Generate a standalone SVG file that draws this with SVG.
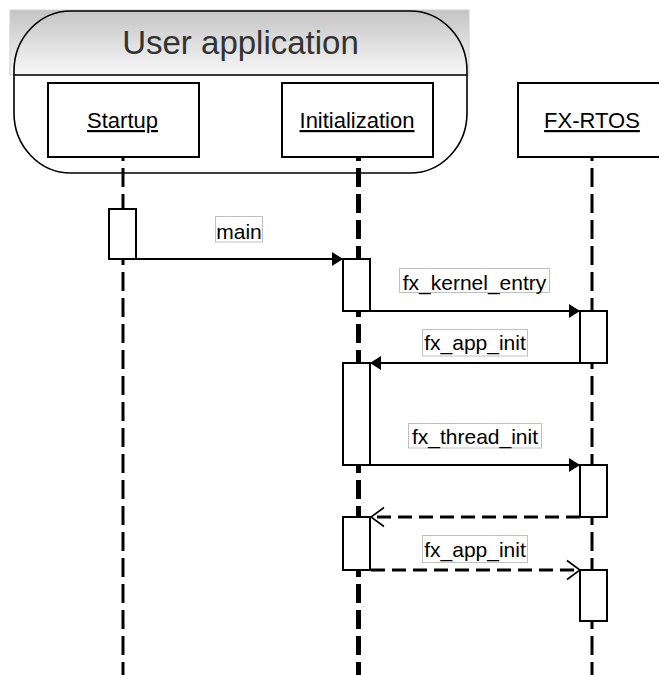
<svg xmlns="http://www.w3.org/2000/svg" width="659" height="675" viewBox="0 0 659 675">
<defs>
<linearGradient id="hdr" x1="0" y1="0" x2="0" y2="1">
<stop offset="0" stop-color="#c4c4c4"/>
<stop offset="1" stop-color="#f8f8f8"/>
</linearGradient>
<marker id="filled" markerWidth="12" markerHeight="16" refX="11" refY="8" orient="auto" markerUnits="userSpaceOnUse">
<path d="M0,1 L11,8 L0,15 Z" fill="#000"/>
</marker>
<marker id="open" markerWidth="16" markerHeight="24" refX="14" refY="11" orient="auto" markerUnits="userSpaceOnUse">
<path d="M1,1.5 L14,11 L1,20.5" fill="none" stroke="#000" stroke-width="1.6"/>
</marker>
<style>
.box{fill:#fff;stroke:#000;stroke-width:2}
.act{fill:#fff;stroke:#000;stroke-width:2}
.name{font-family:"Liberation Sans",Arial,sans-serif;font-size:22px;fill:#000;text-anchor:middle;text-decoration:underline}
.life{stroke:#000;stroke-width:3;stroke-dasharray:19 7;stroke-dashoffset:15;fill:none}
.lbl{fill:#fff;stroke:#c0c0c0;stroke-width:1}
.lt{font-family:"Liberation Sans",Arial,sans-serif;font-size:21px;fill:#000;text-anchor:middle}
.msg{stroke:#000;stroke-width:2;fill:none}
.ret{stroke:#000;stroke-width:3;stroke-dasharray:14 7;fill:none}
</style>
</defs>
<g id="user-application">
<rect x="10" y="10" width="459" height="65" fill="url(#hdr)" stroke="#d0d0d0" stroke-width="1"/>
<rect x="14" y="11" width="453" height="162" rx="57" ry="60" fill="none" stroke="#000" stroke-width="1.6"/>
<line x1="14" y1="75" x2="467" y2="75" stroke="#000" stroke-width="1.6"/>
<text x="240.5" y="54" font-family="'Liberation Sans',Arial,sans-serif" font-size="33" fill="#333" text-anchor="middle">User application</text>
</g>
<g id="lifelines">
<line class="life" x1="123" y1="157" x2="123" y2="675"/>
<line class="life" x1="358.5" y1="157" x2="358.5" y2="675" style="stroke-width:5"/>
<line class="life" x1="592" y1="157" x2="592" y2="675"/>
</g>
<g id="startup">
<rect class="box" x="48" y="83" width="151" height="74"/>
<text class="name" x="122.5" y="128">Startup</text>
<rect class="act" x="109" y="209" width="27" height="50"/>
</g>
<g id="initialization">
<rect class="box" x="282" y="83" width="151" height="74"/>
<text class="name" x="357" y="128">Initialization</text>
<rect class="act" x="343" y="259" width="27" height="52"/>
<rect class="act" x="343" y="363" width="27" height="102"/>
<rect class="act" x="343" y="517" width="27" height="53"/>
</g>
<g id="fx-rtos">
<rect class="box" x="518" y="83" width="151" height="74"/>
<text class="name" x="592" y="128">FX-RTOS</text>
<rect class="act" x="580" y="311" width="27" height="52"/>
<rect class="act" x="580" y="465" width="27" height="52"/>
<rect class="act" x="580" y="570" width="27" height="51"/>
</g>
<g id="connectors">
<line class="msg" x1="136" y1="259" x2="343" y2="259" marker-end="url(#filled)"/>
<line class="msg" x1="370" y1="311" x2="580" y2="311" marker-end="url(#filled)"/>
<line class="msg" x1="580" y1="363" x2="370" y2="363" marker-end="url(#filled)"/>
<line class="msg" x1="370" y1="465" x2="580" y2="465" marker-end="url(#filled)"/>
<line class="ret" x1="580" y1="517" x2="371" y2="517" marker-end="url(#open)"/>
<line class="ret" x1="371" y1="570" x2="580" y2="570" marker-end="url(#open)"/>
</g>
<g id="labels">
<rect class="lbl" x="215.5" y="216.5" width="47" height="25.5"/>
<text class="lt" x="239" y="239">main</text>
<rect class="lbl" x="399.5" y="268.5" width="150" height="24"/>
<text class="lt" x="474.5" y="290">fx_kernel_entry</text>
<rect class="lbl" x="422.5" y="329.5" width="105" height="26.5"/>
<text class="lt" x="475" y="350">fx_app_init</text>
<rect class="lbl" x="408.5" y="423.5" width="133" height="24.5"/>
<text class="lt" x="475" y="444">fx_thread_init</text>
<rect class="lbl" x="422.5" y="535.5" width="105" height="27"/>
<text class="lt" x="475" y="557">fx_app_init</text>
</g>
</svg>
